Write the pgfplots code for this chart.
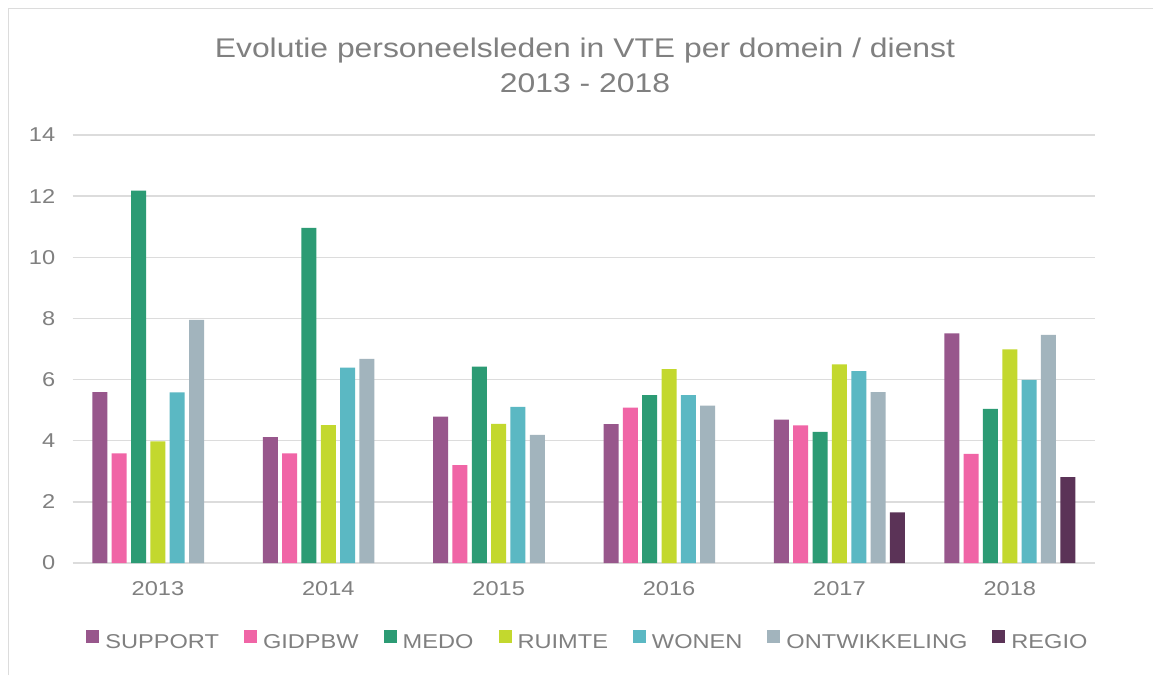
\documentclass[border=0pt]{standalone}
\usepackage{fontspec}
\setmainfont{Liberation Sans}[FakeStretch=1.18]
\usepackage{pgfplots}
\pgfplotsset{compat=1.18}

\definecolor{txtgray}{RGB}{128,128,128}
\definecolor{gridgray}{RGB}{220,220,220}
\definecolor{cSupport}{RGB}{152,87,140}
\definecolor{cGidpbw}{RGB}{240,101,166}
\definecolor{cMedo}{RGB}{44,155,116}
\definecolor{cRuimte}{RGB}{195,216,46}
\definecolor{cWonen}{RGB}{91,184,195}
\definecolor{cOntw}{RGB}{162,180,189}
\definecolor{cRegio}{RGB}{91,51,87}

\begin{document}
\begin{tikzpicture}
\fill[white] (-72.7pt,-112pt) rectangle (1080.3pt,563pt);
\useasboundingbox (-72.7pt,-112pt) rectangle (1080.3pt,563pt);
% chart frame (only left and top edge visible)
\draw[gridgray,line width=1.2pt] (-64.2pt,-112pt) -- (-64.2pt,554.3pt) -- (1080.3pt,554.3pt);

\begin{axis}[
    at={(0pt,0pt)}, anchor=south west,
    scale only axis,
    width=1022.3pt, height=428pt,
    xmin=-0.5, xmax=5.5,
    ymin=0, ymax=14,
    xtick={0,1,2,3,4,5},
    xticklabels={2013,2014,2015,2016,2017,2018},
    ytick={0,2,...,14},
    axis line style={draw=none},
    major tick length=0pt,
    ymajorgrids=true,
    grid style={gridgray,line width=1.4pt},
    /pgf/number format/assume math mode=true,
    tick label style={font=\fontsize{20}{24}\selectfont, text=txtgray},
    xticklabel style={yshift=-15pt},
    yticklabel style={xshift=-14pt},
    ybar,
    bar width=0.088,
    every axis plot/.append style={draw=none},
    legend columns=-1,
    legend style={
        at={(0.503,0)}, anchor=north, yshift=-65pt,
        draw=none, fill=none,
        font=\fontsize{20}{24}\selectfont, text=txtgray,
        nodes={inner sep=0pt},
        /tikz/every odd column/.append style={column sep=6pt},
        /tikz/every even column/.append style={column sep=25pt},
    },
    legend image code/.code={\fill[#1] (0pt,-0.5pt) rectangle (13pt,12.5pt);},
]
\addplot[fill=cSupport, bar shift=-0.3405] coordinates {(0,5.59) (1,4.12) (2,4.79) (3,4.54) (4,4.69) (5,7.51)};
\addlegendentry{SUPPORT}
\addplot[fill=cGidpbw, bar shift=-0.227] coordinates {(0,3.59) (1,3.59) (2,3.20) (3,5.08) (4,4.50) (5,3.57)};
\addlegendentry{GIDPBW}
\addplot[fill=cMedo, bar shift=-0.1135] coordinates {(0,12.18) (1,10.96) (2,6.42) (3,5.49) (4,4.29) (5,5.04)};
\addlegendentry{MEDO}
\addplot[fill=cRuimte, bar shift=0] coordinates {(0,3.98) (1,4.51) (2,4.55) (3,6.34) (4,6.50) (5,6.99)};
\addlegendentry{RUIMTE}
\addplot[fill=cWonen, bar shift=0.1135] coordinates {(0,5.58) (1,6.39) (2,5.11) (3,5.49) (4,6.28) (5,5.99)};
\addlegendentry{WONEN}
\addplot[fill=cOntw, bar shift=0.227] coordinates {(0,7.95) (1,6.68) (2,4.19) (3,5.15) (4,5.59) (5,7.46)};
\addlegendentry{ONTWIKKELING}
\addplot[fill=cRegio, bar shift=0.3405] coordinates {(4,1.66) (5,2.81)};
\addlegendentry{REGIO}
\end{axis}

\node[anchor=base, text=txtgray, font=\fontsize{27}{32}\selectfont] at (512.3pt,505.3pt) {Evolutie personeelsleden in VTE per domein / dienst};
\node[anchor=base, text=txtgray, font=\fontsize{27}{32}\selectfont] at (512.3pt,470.3pt) {2013 - 2018};
\end{tikzpicture}
\end{document}
